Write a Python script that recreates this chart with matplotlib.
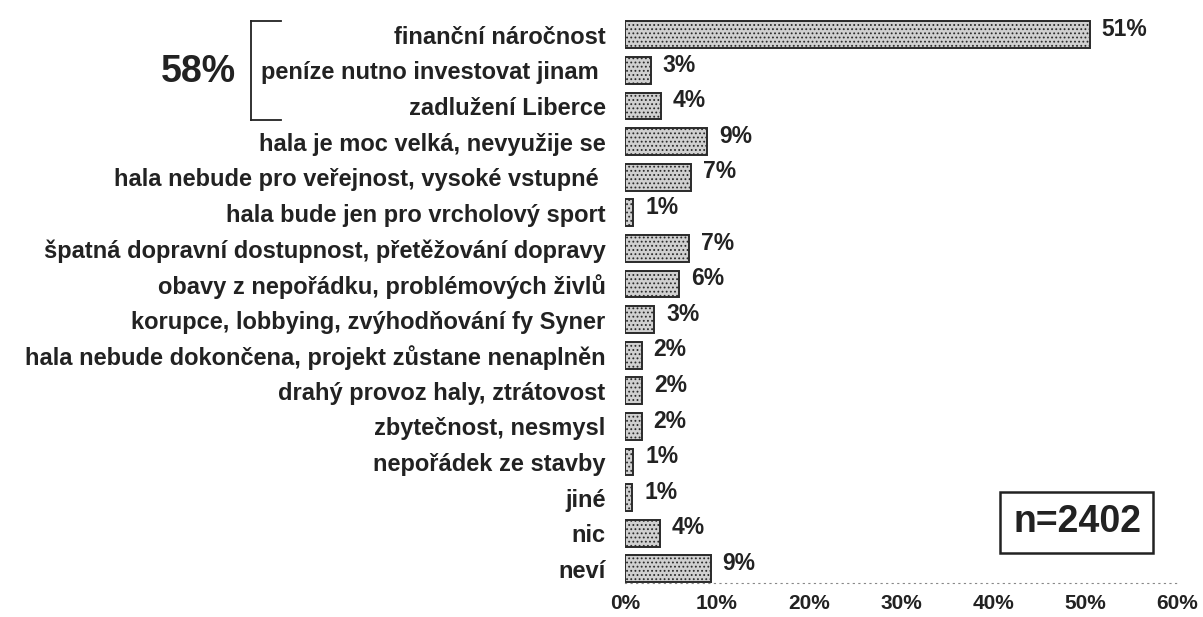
import matplotlib
matplotlib.use("Agg")
import matplotlib.pyplot as plt
from matplotlib.patches import Rectangle
from matplotlib.lines import Line2D

categories = [
    "finanční náročnost",
    "peníze nutno investovat jinam ",
    "zadlužení Liberce",
    "hala je moc velká, nevyužije se",
    "hala nebude pro veřejnost, vysoké vstupné ",
    "hala bude jen pro vrcholový sport",
    "špatná dopravní dostupnost, přetěžování dopravy",
    "obavy z nepořádku, problémových živlů",
    "korupce, lobbying, zvýhodňování fy Syner",
    "hala nebude dokončena, projekt zůstane nenaplněn",
    "drahý provoz haly, ztrátovost",
    "zbytečnost, nesmysl",
    "nepořádek ze stavby",
    "jiné",
    "nic",
    "neví",
]
values = [51, 3, 4, 9, 7, 1, 7, 6, 3, 2, 2, 2, 1, 1, 4, 9]
# drawn bar lengths (labels are rounded)
bar_lengths = [50.5, 2.8, 3.9, 8.9, 7.2, 0.9, 7.0, 5.9, 3.2, 1.8, 1.9, 1.8, 0.9, 0.8, 3.8, 9.3]
x_ticks = [0, 10, 20, 30, 40, 50, 60]
x_tick_labels = ["0%", "10%", "20%", "30%", "40%", "50%", "60%"]
group_label = "58%"
n_label = "n=2402"

plt.rcParams['font.family'] = ['Liberation Sans', 'DejaVu Sans']
plt.rcParams['hatch.color'] = "#a0a0a0"
plt.rcParams['hatch.linewidth'] = 0.8

fig = plt.figure(figsize=(12.03, 6.17), dpi=100)
ax = fig.add_axes([0.5195, 1 - 583 / 617, 0.459, (583 - 17) / 617])

y = list(range(len(categories)))
ax.barh(y, bar_lengths, height=0.75, left=0, color="#d0d0d0",
        edgecolor="#2a2a2a", linewidth=1.4, hatch="....")

for yi, bl, v in zip(y, bar_lengths, values):
    ax.text(bl + 1.3, yi - 0.15, f"{v}%", va="center", ha="left",
            fontsize=16.5, fontweight="bold", color="#222")

ax.set_xlim(0, 60)
ax.set_ylim(15.4, -0.5)
ax.set_yticks(y)
ax.set_yticklabels(categories, fontsize=17, fontweight="bold", color="#222")
ax.tick_params(axis="y", length=0, pad=14)
ax.set_xticks(x_ticks)
ax.set_xticklabels(x_tick_labels, fontsize=15, fontweight="bold", color="#222")
ax.tick_params(axis="x", length=0, pad=8)

for s in ["top", "right", "left"]:
    ax.spines[s].set_visible(False)
ax.spines["bottom"].set_linestyle((0, (1, 4)))
ax.spines["bottom"].set_color("#888")
ax.spines["bottom"].set_linewidth(0.8)

# group bracket and 58% label (figure pixel coords)
W, H = 1203, 617
def fx(px): return px / W
def fy(py): return 1 - py / H
fig.add_artist(Line2D([fx(251), fx(251)], [fy(21), fy(120)], color="#222", lw=1.3))
fig.add_artist(Line2D([fx(251), fx(281)], [fy(21), fy(21)], color="#222", lw=1.3))
fig.add_artist(Line2D([fx(251), fx(281)], [fy(120), fy(120)], color="#222", lw=1.3))
fig.text(fx(198), fy(72), group_label, fontsize=27, fontweight="bold",
         ha="center", va="center", color="#222")

# n box
fig.add_artist(Rectangle((fx(1000), fy(553)), fx(1153) - fx(1000), fy(492) - fy(553),
                         fill=False, edgecolor="#222", lw=1.8))
fig.text(fx(1077), fy(522), n_label, fontsize=27, fontweight="bold",
         ha="center", va="center", color="#222")

fig.savefig("out.png", dpi=100, facecolor="white")
